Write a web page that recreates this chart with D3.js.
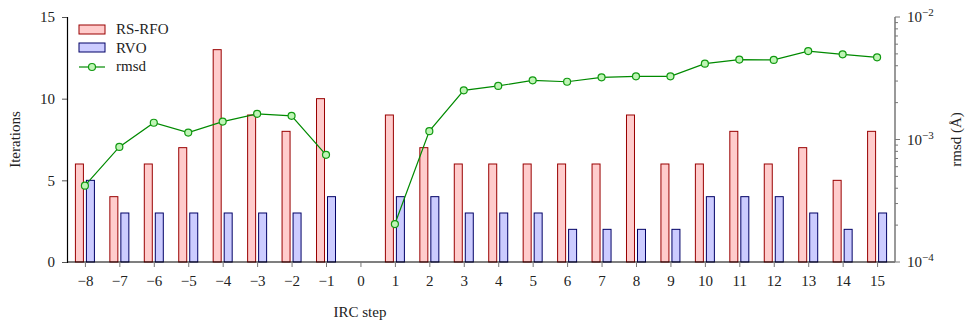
<!DOCTYPE html>
<html>
<head>
<meta charset="utf-8">
<script src="https://cdn.jsdelivr.net/npm/d3@7"></script>
<style>
  body { margin: 0; background: #fff; }
  svg text { fill: #222; }
</style>
</head>
<body>
<svg id="chart" width="966" height="323" font-family="Liberation Serif"></svg>
<script>
const steps = [-8, -7, -6, -5, -4, -3, -2, -1, 1, 2, 3, 4, 5, 6, 7, 8, 9, 10, 11, 12, 13, 14, 15];
const rsrfo = [6, 4, 6, 7, 13, 9, 8, 10, 9, 7, 6, 6, 6, 6, 6, 9, 6, 6, 8, 6, 7, 5, 8];
const rvo = [5, 3, 3, 3, 3, 3, 3, 4, 4, 4, 3, 3, 3, 2, 2, 2, 2, 4, 4, 4, 3, 2, 3];
const rmsd = [4.2e-4, 8.7e-4, 1.37e-3, 1.14e-3, 1.40e-3, 1.62e-3, 1.56e-3, 7.5e-4,
  2.04e-4, 1.17e-3, 2.52e-3, 2.74e-3, 3.04e-3, 2.96e-3, 3.22e-3, 3.28e-3, 3.28e-3,
  4.16e-3, 4.49e-3, 4.46e-3, 5.27e-3, 4.96e-3, 4.69e-3];
const xTicks = d3.range(-8, 16);
const yTicks = [0, 5, 10, 15];
const rTicks = [1e-4, 1e-3, 1e-2];

const FONT = "Liberation Serif";
const FS = 15;
const svg = d3.select("#chart");
const margin = { left: 67, right: 895, top: 17, bottom: 262 };

const x = d3.scaleLinear().domain([-8.52, 15.52]).range([margin.left, margin.right]);
const y = d3.scaleLinear().domain([0, 15]).range([margin.bottom, margin.top]);
const yr = d3.scaleLog().domain([1e-4, 1e-2]).range([margin.bottom, margin.top]);

const barW = 8;

// bars
svg.selectAll(".rs")
  .data(steps.map((s, i) => ({ s, v: rsrfo[i] })))
  .enter()
  .append("rect")
  .attr("x", d => x(d.s) - 5.5 - barW / 2)
  .attr("y", d => y(d.v))
  .attr("width", barW)
  .attr("height", d => margin.bottom - y(d.v))
  .attr("fill", "#ffcccc")
  .attr("stroke", "#990000")
  .attr("stroke-width", 1);

svg.selectAll(".rv")
  .data(steps.map((s, i) => ({ s, v: rvo[i] })))
  .enter()
  .append("rect")
  .attr("x", d => x(d.s) + 5.5 - barW / 2)
  .attr("y", d => y(d.v))
  .attr("width", barW)
  .attr("height", d => margin.bottom - y(d.v))
  .attr("fill", "#ccccff")
  .attr("stroke", "#000066")
  .attr("stroke-width", 1);

// left axis
const gl = svg.append("g")
  .attr("transform", `translate(${margin.left},0)`)
  .call(d3.axisLeft(y).tickValues(yTicks).tickSize(5).tickPadding(7));
gl.attr("font-family", FONT).attr("font-size", FS);
gl.select(".domain").attr("stroke", "#000").attr("stroke-width", 1.2);
gl.selectAll(".tick line").attr("stroke", "#555");
gl.selectAll(".tick text").attr("fill", "#222");

// bottom axis
const gb = svg.append("g")
  .attr("transform", `translate(0,${margin.bottom})`)
  .call(d3.axisBottom(x).tickValues(xTicks).tickSize(5).tickPadding(8)
    .tickFormat(d => d < 0 ? "\u2212" + Math.abs(d) : String(d)));
gb.attr("font-family", FONT).attr("font-size", FS);
gb.select(".domain").attr("stroke", "#000").attr("stroke-width", 1.2)
  .attr("d", `M${margin.left},0H${margin.right}`);
gb.selectAll(".tick line").attr("stroke", "#777");
gb.selectAll(".tick text").attr("fill", "#222");

// right axis (log)
const gr = svg.append("g").attr("transform", `translate(${margin.right},0)`)
  .attr("font-family", FONT);
gr.append("line").attr("y1", margin.top).attr("y2", margin.bottom).attr("stroke", "#777").attr("stroke-width", 1.5);
const minor = [];
for (let e = -4; e < -2; e++) for (let m = 2; m <= 9; m++) minor.push(m * Math.pow(10, e));
gr.selectAll(".mn").data(minor).enter().append("line")
  .attr("x1", 0).attr("x2", 3).attr("y1", d => yr(d)).attr("y2", d => yr(d))
  .attr("stroke", "#777");
gr.selectAll(".mj").data(rTicks).enter().append("line")
  .attr("x1", 0).attr("x2", 5).attr("y1", d => yr(d)).attr("y2", d => yr(d))
  .attr("stroke", "#777");
const rl = gr.selectAll(".rl").data(rTicks).enter().append("text")
  .attr("x", 12).attr("y", d => yr(d) + 5).attr("font-size", FS);
rl.append("tspan").text("10");
rl.append("tspan").attr("dy", -6).attr("font-size", 11).text(d => "\u2212" + Math.abs(Math.round(Math.log10(d))));

// rmsd line
const pts = steps.map((s, i) => ({ s, v: rmsd[i] }));
const segs = [pts.filter(d => d.s < 0), pts.filter(d => d.s > 0)];
const line = d3.line().x(d => x(d.s)).y(d => yr(d.v));
svg.selectAll(".rm").data(segs).enter().append("path")
  .attr("d", line).attr("fill", "none").attr("stroke", "#008a00").attr("stroke-width", 1.2);
svg.selectAll(".dot").data(pts).enter().append("circle")
  .attr("cx", d => x(d.s)).attr("cy", d => yr(d.v)).attr("r", 3.5)
  .attr("fill", "#bff5b5").attr("stroke", "#119911").attr("stroke-width", 1.2);

// axis titles
svg.append("text").attr("transform", `translate(20,${(margin.top + margin.bottom) / 2}) rotate(-90)`)
  .attr("text-anchor", "middle").attr("font-size", FS).text("Iterations");
svg.append("text").attr("x", 360).attr("y", 317)
  .attr("text-anchor", "middle").attr("font-size", FS).text("IRC step");
svg.append("text").attr("transform", `translate(961,${(margin.top + margin.bottom) / 2}) rotate(-90)`)
  .attr("text-anchor", "middle").attr("font-size", FS).text("rmsd (\u00c5)");

// legend
const lg = svg.append("g");
lg.append("rect").attr("x", 79).attr("y", 25).attr("width", 26).attr("height", 9)
  .attr("fill", "#ffcccc").attr("stroke", "#990000");
lg.append("rect").attr("x", 79).attr("y", 43).attr("width", 26).attr("height", 9)
  .attr("fill", "#ccccff").attr("stroke", "#000066");
lg.append("line").attr("x1", 79).attr("x2", 105).attr("y1", 67).attr("y2", 67)
  .attr("stroke", "#008a00").attr("stroke-width", 1.2);
lg.append("circle").attr("cx", 92).attr("cy", 67).attr("r", 3.5)
  .attr("fill", "#bff5b5").attr("stroke", "#119911").attr("stroke-width", 1.2);
const lab = ["RS-RFO", "RVO", "rmsd"];
lg.selectAll(".lt").data(lab).enter().append("text")
  .attr("x", 116).attr("y", (d, i) => 34 + i * 18.5).attr("font-size", FS).text(d => d);
</script>
</body>
</html>
